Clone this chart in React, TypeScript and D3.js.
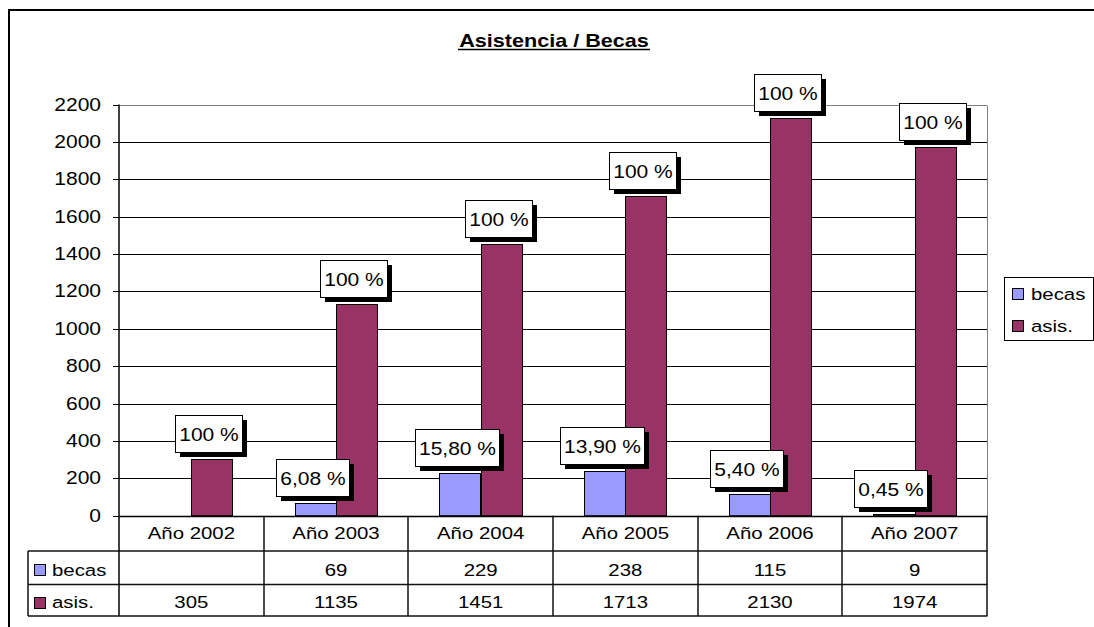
import React from 'react';
import * as d3 from 'd3';

// ---- data ----
const categories = ["Año 2002", "Año 2003", "Año 2004", "Año 2005", "Año 2006", "Año 2007"];
const becas: (number | null)[] = [null, 69, 229, 238, 115, 9];
const asis: number[] = [305, 1135, 1451, 1713, 2130, 1974];
const becasLabels: (string | null)[] = [null, "6,08 %", "15,80 %", "13,90 %", "5,40 %", "0,45 %"];
const asisLabels: string[] = ["100 %", "100 %", "100 %", "100 %", "100 %", "100 %"];
const yTicks = [0, 200, 400, 600, 800, 1000, 1200, 1400, 1600, 1800, 2000, 2200];
const seriesNames = ["becas", "asis."];
const seriesKeys = ["becas", "asis"];
const seriesColors = ["#9999FF", "#993366"];
const title = "Asistencia / Becas";

const FONT = '"Liberation Sans", Arial, sans-serif';
const SX = 1.2;

const AW: Record<string, number> = { ',': 0.278, ' ': 0.278, '%': 0.889 };
function arialWidth(s: string, size: number) {
  let w = 0;
  for (const c of s) w += AW[c] ?? 0.556;
  return w * size * SX;
}

function T({ x, y, size = 17, anchor = 'middle', weight = 'normal', children }: any) {
  return (
    <g transform={`translate(${x},${y}) scale(${SX},1)`}>
      <text x={0} y={0} fontFamily={FONT} fontSize={size} fontWeight={weight} textAnchor={anchor} fill="#000">
        {children}
      </text>
    </g>
  );
}

export default function App() {
  const left = 119, right = 987, top = 104.5, bottom = 515.7;
  const headerBottom = 551, rowMid = 584.5, tableBottom = 616, tableLeft = 28;

  const x0 = d3.scaleBand<string>().domain(categories).range([left, right]).padding(0);
  const x1 = d3.scaleBand<string>().domain(seriesKeys).range([0, x0.bandwidth()]).paddingInner(0).paddingOuter(0.75);
  const y = d3.scaleLinear().domain([0, 2200]).range([bottom, top]);
  const cy = (v: number) => Math.round(y(v)) + 0.5;

  const bars: any[] = [];
  const labels: any[] = [];
  categories.forEach((c, i) => {
    const vals = [becas[i], asis[i]];
    const labs = [becasLabels[i], asisLabels[i]];
    vals.forEach((v, s) => {
      if (v == null) return;
      const bx = Math.round(x0(c)! + x1(seriesKeys[s])!) + 0.5;
      const bw = Math.round(x1.bandwidth());
      const by = Math.round(y(v)) + 0.5;
      bars.push(
        <rect key={`b${i}-${s}`} x={bx} y={by} width={bw} height={Math.max(0, bottom - by)}
          fill={seriesColors[s]} stroke="#000" strokeWidth={1} />
      );
      const lab = labs[s];
      if (lab) {
        const w = Math.round(arialWidth(lab, 17) + 9);
        const h = 37;
        const cx = bx + bw / 2 - 3.5;
        const lx = Math.round(cx - w / 2) + 0.5;
        const ly = Math.round(y(v) - 7 - h) + 0.5;
        labels.push(
          <g key={`l${i}-${s}`}>
            <rect x={lx + 4.5} y={ly + 4.5} width={w} height={h} fill="#000" />
            <rect x={lx} y={ly} width={w} height={h} fill="#fff" stroke="#000" strokeWidth={1} />
            <T x={lx + w / 2} y={ly + h / 2 + 6.5} size={17.5}>{lab}</T>
          </g>
        );
      }
    });
  });

  return (
    <svg width={1094} height={627} style={{ position: 'absolute', left: 0, top: 0, background: '#fff' }}>
      <rect x={0} y={0} width={1094} height={627} fill="#fff" />
      {/* outer frame */}
      <rect x={9} y={10} width={1200} height={700} fill="none" stroke="#000" strokeWidth={2} />

      {/* title */}
      <T x={554} y={47} size={18} weight="bold">{title}</T>
      <line x1={458} x2={650} y1={49.5} y2={49.5} stroke="#000" strokeWidth={1.5} />

      {/* gridlines */}
      {yTicks.filter(t => t > 0 && t < 2200).map(t => (
        <line key={`g${t}`} x1={left} x2={right} y1={cy(t)} y2={cy(t)} stroke="#000" strokeWidth={1} />
      ))}
      {/* plot border top & right (grey) */}
      <line x1={left} x2={right} y1={cy(2200)} y2={cy(2200)} stroke="#808080" strokeWidth={1} />
      <line x1={right + 0.5} x2={right + 0.5} y1={cy(2200)} y2={bottom} stroke="#808080" strokeWidth={1} />

      {/* y ticks and labels */}
      {yTicks.map(t => (
        <g key={`t${t}`}>
          <line x1={113} x2={left} y1={cy(t)} y2={cy(t)} stroke="#000" strokeWidth={1} />
          <T x={101} y={cy(t) + 5.5} anchor="end" size={17.5}>{t}</T>
        </g>
      ))}

      {bars}

      {/* table */}
      <line x1={left} x2={right + 0.5} y1={cy(0)} y2={cy(0)} stroke="#000" strokeWidth={1.5} />
      <line x1={tableLeft} x2={right + 0.5} y1={headerBottom} y2={headerBottom} stroke="#111" strokeWidth={1.5} />
      <line x1={tableLeft} x2={right + 0.5} y1={rowMid} y2={rowMid} stroke="#111" strokeWidth={1.5} />
      <line x1={tableLeft} x2={right + 0.5} y1={tableBottom} y2={tableBottom} stroke="#111" strokeWidth={1.5} />
      <line x1={tableLeft} x2={tableLeft} y1={headerBottom} y2={tableBottom} stroke="#111" strokeWidth={1.5} />
      <line x1={left} x2={left} y1={top} y2={tableBottom} stroke="#000" strokeWidth={1.5} />
      {categories.map((c, i) => (
        <line key={`v${i}`} x1={Math.round(x0(c)! + x0.bandwidth())} x2={Math.round(x0(c)! + x0.bandwidth())}
          y1={bottom} y2={tableBottom} stroke="#111" strokeWidth={1.5} />
      ))}
      {categories.map((c, i) => (
        <g key={`c${i}`}>
          <T x={x0(c)! + x0.bandwidth() / 2} y={538.5}>{c}</T>
          {becas[i] != null && <T x={x0(c)! + x0.bandwidth() / 2} y={576}>{becas[i]}</T>}
          <T x={x0(c)! + x0.bandwidth() / 2} y={608}>{asis[i]}</T>
        </g>
      ))}
      {seriesNames.map((n, s) => (
        <g key={`tk${s}`}>
          <rect x={34.5} y={(s === 0 ? 564.5 : 597.5)} width={11} height={11} fill={seriesColors[s]} stroke="#000" strokeWidth={1} />
          <T x={52} y={s === 0 ? 576 : 608} anchor="start">{n}</T>
        </g>
      ))}

      {labels}

      {/* legend */}
      <rect x={1004.5} y={277.5} width={89} height={63} fill="#fff" stroke="#000" strokeWidth={1} />
      {seriesNames.map((n, s) => (
        <g key={`lg${s}`}>
          <rect x={1012.5} y={s === 0 ? 288.5 : 320.5} width={11} height={11} fill={seriesColors[s]} stroke="#000" strokeWidth={1} />
          <T x={1031} y={s === 0 ? 300 : 332} anchor="start">{n}</T>
        </g>
      ))}
    </svg>
  );
}
